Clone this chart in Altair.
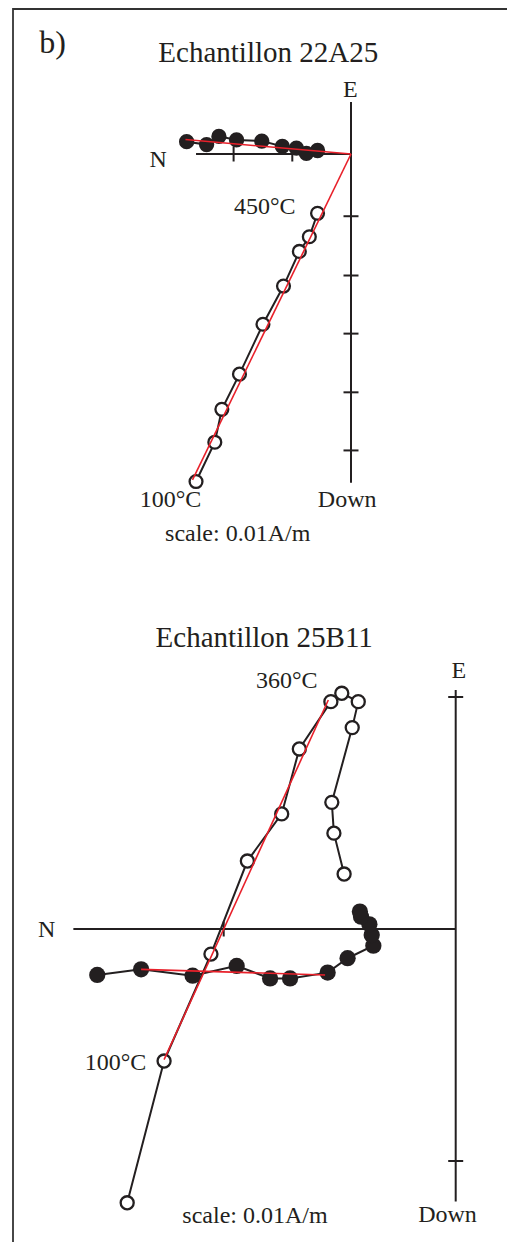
import altair as alt
import pandas as pd

# ---------------- Echantillon 22A25 (units: 0.01 A/m) ----------------
# horizontal projection (filled): North, East  (100°C ... 450°C)
s1_h_north = [2.80, 2.46, 2.25, 1.95, 1.52, 1.17, 0.93, 0.76, 0.57]
s1_h_east = [0.21, 0.16, 0.30, 0.24, 0.22, 0.13, 0.10, 0.01, 0.06]
# vertical projection (open): North, Down
s1_v_north = [2.64, 2.32, 2.20, 1.90, 1.50, 1.15, 0.88, 0.71, 0.57]
s1_v_down = [5.58, 4.91, 4.35, 3.75, 2.90, 2.25, 1.66, 1.41, 1.01]
# fitted directions (red)
s1_fit_h_north = [2.82, 0.0]
s1_fit_h_east = [0.247, 0.0]
s1_fit_v_north = [2.70, 0.0]
s1_fit_v_down = [5.55, 0.0]
# axes
s1_axis_north = 2.64
s1_axis_east = 0.886
s1_axis_down = 5.60
s1_ticks_north = [1, 2]
s1_ticks_down = [1.06, 2.07, 3.06, 4.06, 5.05]

# ---------------- Echantillon 25B11 ----------------
s2_h_north = [1.545, 1.356, 1.134, 0.944, 0.800, 0.714, 0.552, 0.466, 0.355, 0.362, 0.372, 0.408, 0.413]
s2_h_east = [-0.198, -0.174, -0.201, -0.159, -0.213, -0.213, -0.188, -0.126, -0.072, -0.026, 0.020, 0.053, 0.075]
s2_v_north = [1.416, 1.257, 1.055, 0.898, 0.750, 0.674, 0.538, 0.491, 0.420, 0.446, 0.534, 0.525, 0.481]
s2_v_down = [1.180, 0.569, 0.108, -0.293, -0.496, -0.776, -0.980, -1.016, -0.980, -0.868, -0.546, -0.413, -0.237]
s2_fit_h_north = [1.356, 0.563]
s2_fit_h_east = [-0.174, -0.198]
s2_fit_v_north = [1.257, 0.549]
s2_fit_v_down = [0.563, -0.987]
s2_axis_north = 1.648
s2_axis_east = 1.03
s2_axis_down = 1.175
s2_ticks_north = [1]
s2_ticks_east = [1]
s2_ticks_down = [1]

# ---------------- annotations (data units) ----------------
s1_title = ["Echantillon 22A25"]
s1_title_pos = [(1.409, 1.572)]
s1_panel_label = ["b)"]
s1_panel_label_pos = [(5.085, 1.7155)]
s1_labels = ["E", "N", "450°C", "100°C", "Down", "scale: 0.01A/m"]
s1_labels_pos = [(0.01, 0.976), (3.283, -0.216), (1.470, -1.027),
                 (3.075, -6.009), (0.065, -6.009), (1.930, -6.593)]
s2_title = ["Echantillon 25B11"]
s2_title_pos = [(0.8254, 1.2168)]
s2_labels = ["E", "360°C", "N", "100°C", "scale: 0.01A/m", "Down"]
s2_labels_pos = [(-0.013, 1.0806), (0.7284, 1.0375), (1.763, -0.0332),
                 (1.4664, -0.6078), (0.865, -1.266), (0.0353, -1.263)]

W, H = 499, 1234
INK = "#231f20"
RED = "#e8202a"
FONT = "Liberation Serif"


def make_scales(ox, oy, unit):
    # ox, oy: where the origin sits in the page; plot area starts at (8, 8)
    px0, py0 = ox - 8, oy - 8
    xs = alt.Scale(domain=[-(W - px0) / unit, px0 / unit], reverse=True, nice=False, zero=False)
    ys = alt.Scale(domain=[-(H - py0) / unit, py0 / unit], nice=False, zero=False)
    return xs, ys


def text_df(texts, pos):
    return pd.DataFrame({"t": texts, "N": [p[0] for p in pos], "Y": [p[1] for p in pos]})


def panel(xs, ys, hN, hE, vN, vD, fhN, fhE, fvN, fvD, axN, axE, axD,
          tN, tY, texts, msize_f, msize_o):
    X = lambda f: alt.X(f"{f}:Q", scale=xs, axis=None)
    Y = lambda f: alt.Y(f"{f}:Q", scale=ys, axis=None)

    axes = pd.DataFrame({"x1": [axN, 0.0], "x2": [0.0, 0.0],
                         "y1": [0.0, axE], "y2": [0.0, -axD]})
    lay = []
    lay.append(alt.Chart(axes).mark_rule(color=INK, strokeWidth=2).encode(
        x=X("x1"), x2="x2", y=Y("y1"), y2="y2"))
    lay.append(alt.Chart(pd.DataFrame({"N": tN, "Y": [0.0] * len(tN)})).mark_tick(
        orient="vertical", size=15, thickness=2, color=INK, opacity=1).encode(x=X("N"), y=Y("Y")))
    lay.append(alt.Chart(pd.DataFrame({"N": [0.0] * len(tY), "Y": tY})).mark_tick(
        orient="horizontal", size=15, thickness=2, color=INK, opacity=1).encode(x=X("N"), y=Y("Y")))

    hdf = pd.DataFrame({"i": range(len(hN)), "N": hN, "Y": hE})
    vdf = pd.DataFrame({"i": range(len(vN)), "N": vN, "Y": [-d for d in vD]})
    lay.append(alt.Chart(hdf).mark_line(color=INK, strokeWidth=2).encode(
        x=X("N"), y=Y("Y"), order="i:Q"))
    lay.append(alt.Chart(vdf).mark_line(color=INK, strokeWidth=2).encode(
        x=X("N"), y=Y("Y"), order="i:Q"))
    lay.append(alt.Chart(hdf).mark_circle(color=INK, size=msize_f, opacity=1).encode(
        x=X("N"), y=Y("Y")))
    lay.append(alt.Chart(vdf).mark_circle(fill="white", stroke=INK, strokeWidth=2.3,
                                          size=msize_o, opacity=1).encode(x=X("N"), y=Y("Y")))
    fits = pd.DataFrame({"x1": [fhN[0], fvN[0]], "x2": [fhN[1], fvN[1]],
                         "y1": [fhE[0], -fvD[0]], "y2": [fhE[1], -fvD[1]]})
    lay.append(alt.Chart(fits).mark_rule(color=RED, strokeWidth=1.6).encode(
        x=X("x1"), x2="x2", y=Y("y1"), y2="y2"))
    for df, fs in texts:
        lay.append(alt.Chart(df).mark_text(font=FONT, fontSize=fs, color=INK, align="center",
                                           baseline="alphabetic").encode(
            x=X("N"), y=Y("Y"), text="t:N"))
    return alt.layer(*lay)


xs1, ys1 = make_scales(351, 154, 58.7)
xs2, ys2 = make_scales(455.7, 929, 232)

p1 = panel(xs1, ys1, s1_h_north, s1_h_east, s1_v_north, s1_v_down,
           s1_fit_h_north, s1_fit_h_east, s1_fit_v_north, s1_fit_v_down,
           s1_axis_north, s1_axis_east, s1_axis_down,
           s1_ticks_north, [-d for d in s1_ticks_down],
           [(text_df(s1_title, s1_title_pos), 29),
            (text_df(s1_panel_label, s1_panel_label_pos), 32),
            (text_df(s1_labels, s1_labels_pos), 24)],
           235, 165)

p2 = panel(xs2, ys2, s2_h_north, s2_h_east, s2_v_north, s2_v_down,
           s2_fit_h_north, s2_fit_h_east, s2_fit_v_north, s2_fit_v_down,
           s2_axis_north, s2_axis_east, s2_axis_down,
           s2_ticks_north, s2_ticks_east + [-d for d in s2_ticks_down],
           [(text_df(s2_title, s2_title_pos), 29),
            (text_df(s2_labels, s2_labels_pos), 24)],
           265, 170)

one = pd.DataFrame({"a": [0]})
frame_left = alt.Chart(one).mark_rule(color="#333333", strokeWidth=1.8).encode(
    x=alt.value(5), y=alt.value(0), y2=alt.value(H))
frame_top = alt.Chart(one).mark_rule(color="#333333", strokeWidth=1.8).encode(
    x=alt.value(5), x2=alt.value(W), y=alt.value(1))

chart = alt.layer(p1, p2, frame_left, frame_top).resolve_scale(
    x="independent", y="independent"
).properties(
    width=W, height=H, padding=0,
    autosize=alt.AutoSizeParams(type="none"),
).configure_view(strokeWidth=0)

chart.save("out.html", embed_options={"renderer": "svg", "actions": False})
